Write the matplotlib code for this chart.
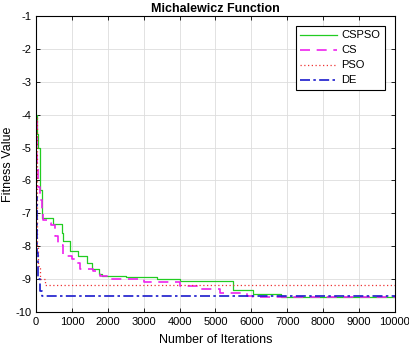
import matplotlib.pyplot as plt

plt.rcParams['font.family'] = ['Liberation Sans', 'DejaVu Sans']
plt.rcParams['axes.unicode_minus'] = False

# iteration / fitness breakpoints (step curves)
it_cspso = [0, 20, 55, 110, 160, 480, 715, 760, 950, 1180, 1420, 1560, 1740, 1830, 2500, 3360, 4000, 5490, 6050, 6840, 10000]
fit_cspso = [-4.0, -4.6, -5.0, -6.3, -7.15, -7.33, -7.6, -7.85, -8.15, -8.3, -8.5, -8.7, -8.85, -8.9, -8.95, -9.0, -9.05, -9.33, -9.46, -9.56, -9.56]

it_cs = [0, 30, 60, 120, 160, 200, 300, 420, 530, 620, 760, 1000, 1090, 1230, 1590, 1780, 2060, 3000, 4000, 4550, 5120, 5870, 6050, 10000]
fit_cs = [-4.2, -5.5, -6.2, -6.6, -6.9, -7.2, -7.3, -7.35, -7.7, -7.95, -8.3, -8.4, -8.5, -8.7, -8.75, -8.9, -9.0, -9.1, -9.2, -9.29, -9.43, -9.5, -9.55, -9.55]

it_pso = [0, 15, 30, 60, 120, 250, 10000]
fit_pso = [-4.1, -6.5, -8.0, -8.6, -9.0, -9.17, -9.17]

it_de = [0, 10, 25, 55, 100, 160, 10000]
fit_de = [-4.0, -6.5, -8.2, -9.0, -9.35, -9.53, -9.53]

fig = plt.figure(figsize=(4.1, 3.47), dpi=100)
ax = fig.add_axes([0.088, 0.101, 0.875, 0.853])

ax.plot(it_cspso, fit_cspso, drawstyle='steps-post', color='#22cc22', lw=0.9, label='CSPSO')
ax.plot(it_cs, fit_cs, drawstyle='steps-post', color='#ee22ee', lw=1.2, ls=(0, (6, 4)), label='CS')
ax.plot(it_pso, fit_pso, drawstyle='steps-post', color='#ee3333', lw=0.9, ls=(0, (1, 2)), label='PSO')
ax.plot(it_de, fit_de, drawstyle='steps-post', color='#1a1acc', lw=1.2, ls=(0, (6, 2, 1.5, 2)), label='DE')

ax.set_xlim(0, 10000)
ax.set_ylim(-10, -1)
ax.set_xticks(range(0, 10001, 1000))
ax.set_yticks(range(-10, 0))
ax.tick_params(direction='in', labelsize=8, length=3, top=True, right=True, width=0.6)
ax.grid(True, color='#dddddd', lw=0.6)
for s in ax.spines.values():
    s.set_linewidth(0.8)

ax.set_xlabel('Number of Iterations', fontsize=9, labelpad=5)
ax.set_ylabel('Fitness Value', fontsize=9)
ax.yaxis.set_label_coords(-0.062, 0.5)
ax.set_title('Michalewicz Function', fontsize=9, fontweight='bold', pad=3)

leg = ax.legend(loc='upper right', fontsize=8, fancybox=False, framealpha=1,
                edgecolor='black', handlelength=3.3, handletextpad=0.4,
                borderaxespad=0.9, labelspacing=0.45)
leg.get_frame().set_linewidth(0.8)

fig.savefig('out.png', dpi=100)
